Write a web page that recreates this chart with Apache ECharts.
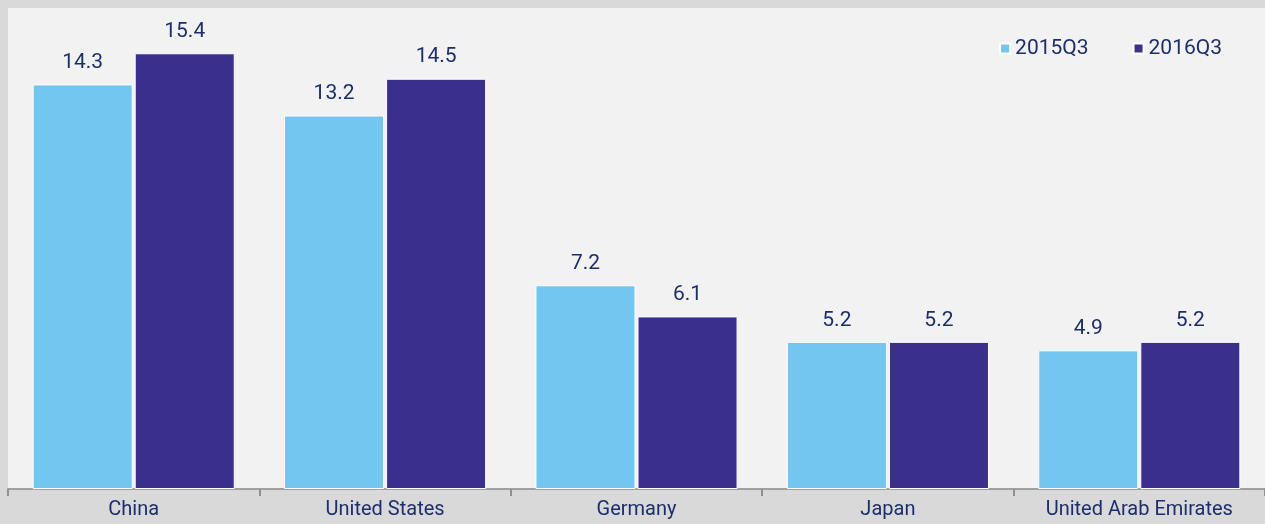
<!DOCTYPE html>
<html>
<head>
<meta charset="utf-8">
<script src="https://cdn.jsdelivr.net/npm/echarts@6/dist/echarts.min.js"></script>
<style>
  html, body { margin: 0; padding: 0; background: #d9d9d9; }
  #chart { width: 1265px; height: 524px; }
</style>
</head>
<body>
<div id="chart"></div>
<script>
var countries = ['China', 'United States', 'Germany', 'Japan', 'United Arab Emirates'];
var q2015 = [14.3, 13.2, 7.2, 5.2, 4.9];
var q2016 = [15.4, 14.5, 6.1, 5.2, 5.2];

var textColor = '#1c2e6b';
var chart = echarts.init(document.getElementById('chart'));
chart.setOption({
    backgroundColor: '#d9d9d9',
    textStyle: { fontFamily: 'Roboto' },
    legend: {
        right: 38,
        top: 33,
        icon: 'rect',
        itemWidth: 10,
        itemHeight: 10,
        itemGap: 44,
        textStyle: { color: textColor, fontSize: 21 },
        data: ['2015Q3', '2016Q3']
    },
    grid: {
        left: 8, right: 0, top: 8, bottom: 35,
        show: true,
        backgroundColor: '#f2f2f2',
        borderWidth: 0
    },
    xAxis: {
        type: 'category',
        data: countries,
        axisLine: { show: true, lineStyle: { color: '#a0a0a0', width: 2 } },
        axisTick: { show: true, length: 7, lineStyle: { color: '#909090', width: 2 } },
        axisLabel: { color: textColor, fontSize: 20, margin: 11 }
    },
    yAxis: {
        type: 'value',
        min: 0,
        max: 17,
        axisLine: { show: false },
        axisTick: { show: false },
        axisLabel: { show: false },
        splitLine: { show: false }
    },
    series: [
        {
            name: '2015Q3',
            type: 'bar',
            data: q2015,
            barWidth: '39.8%',
            barGap: '2%',
            itemStyle: { color: '#72c6ef', borderColor: '#ffffff', borderWidth: 1 },
            label: { show: true, position: 'top', distance: 11, color: textColor, fontSize: 21 }
        },
        {
            name: '2016Q3',
            type: 'bar',
            data: q2016,
            barWidth: '39.8%',
            itemStyle: { color: '#3b2f8e', borderColor: '#ffffff', borderWidth: 1 },
            label: { show: true, position: 'top', distance: 11, color: textColor, fontSize: 21 }
        }
    ]
});
</script>
</body>
</html>
